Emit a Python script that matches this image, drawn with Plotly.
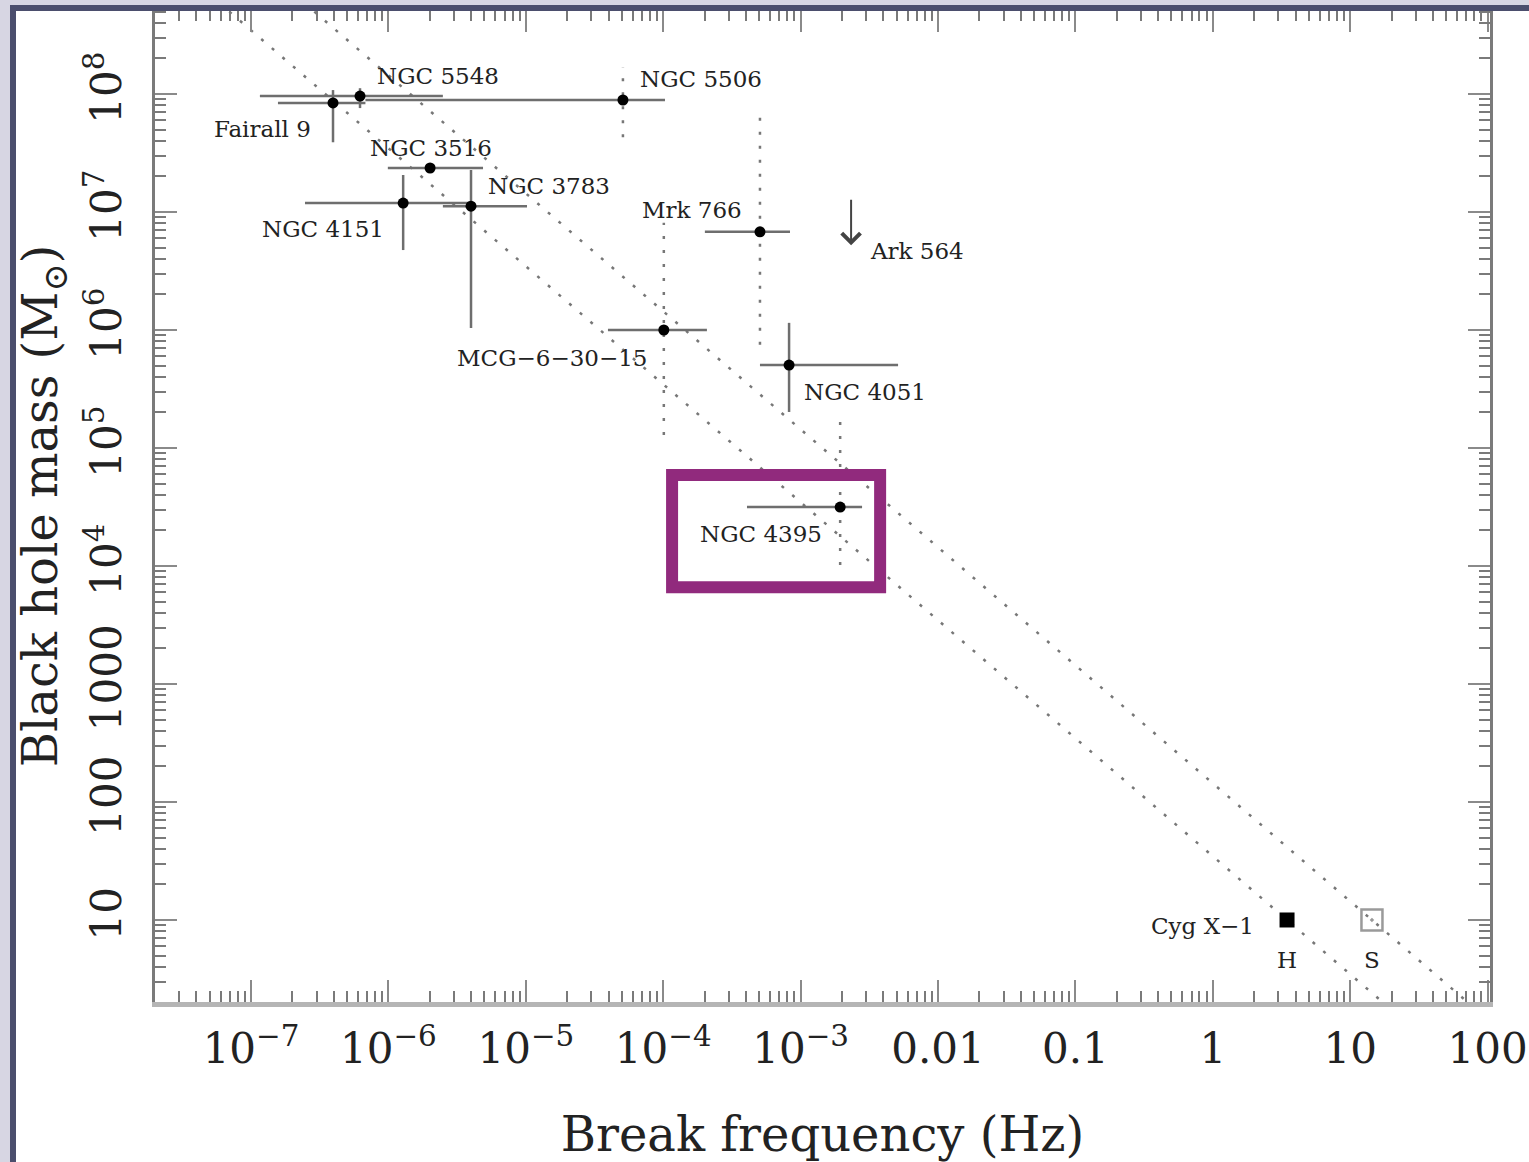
import math
import plotly.graph_objects as go

# AGN sample: PSD break frequency (Hz) against black-hole mass (solar masses)
names = ["Fairall 9", "NGC 5548", "NGC 5506", "NGC 3516", "NGC 4151",
         "NGC 3783", "Mrk 766", "MCG−6−30−15", "NGC 4051", "NGC 4395"]
freq = [3.95e-7, 6.21e-7, 5.09e-5, 2.01e-6, 1.28e-6,
        3.99e-6, 5.06e-4, 1.01e-4, 8.24e-4, 1.94e-3]
freq_lo = [1.57e-7, 1.16e-7, 6.8e-7, 9.9e-7, 2.47e-7,
           2.49e-6, 2.01e-4, 3.96e-5, 5.06e-4, 4.07e-4]
freq_hi = [6.8e-7, 2.49e-6, 1.03e-4, 4.88e-6, 3.93e-6,
           1.02e-5, 8.37e-4, 2.08e-4, 5.12e-3, 2.80e-3]
mass = [8.4e7, 9.6e7, 8.9e7, 2.36e7, 1.19e7,
        1.12e7, 6.8e6, 1.0e6, 5.05e5, 3.16e4]
mass_lo = [3.9e7, 7.6e7, 4.3e7, None, 4.76e6,
           1.04e6, 7.5e5, 1.29e5, 2.02e5, 1.02e4]
mass_hi = [1.08e8, 1.12e8, 1.69e8, None, 2.06e7,
           2.27e7, 6.9e7, 8.1e6, 1.15e6, 1.73e5]
# mass ranges drawn dotted (poorly constrained estimates)
mass_dotted = [False, False, True, False, False,
               False, True, True, False, True]

# Ark 564: upper limit on the mass
ark_name = "Ark 564"
ark_freq = 2.33e-3
ark_mass_limit = 1.31e7

# Cyg X-1 in its hard (H) and soft (S) states
cyg_name = "Cyg X−1"
cyg_state = ["H", "S"]
cyg_freq = [3.47, 14.4]
cyg_mass = [10.0, 10.0]

# highlighted region around NGC 4395
box_freq = [1.16e-4, 3.79e-3]
box_mass = [6.6e3, 5.9e4]

# axis ticks
x_tickvals = [1e-7, 1e-6, 1e-5, 1e-4, 1e-3, 0.01, 0.1, 1, 10, 100]
x_ticktext = ["10<sup>−7</sup>", "10<sup>−6</sup>", "10<sup>−5</sup>",
              "10<sup>−4</sup>", "10<sup>−3</sup>", "0.01", "0.1", "1",
              "10", "100"]
y_tickvals = [10, 100, 1000, 1e4, 1e5, 1e6, 1e7, 1e8]
y_ticktext = ["10", "100", "1000", "10<sup>4</sup>", "10<sup>5</sup>",
              "10<sup>6</sup>", "10<sup>7</sup>", "10<sup>8</sup>"]

# ---------------------------------------------------------------- layout
W, H = 1529, 1162
ML, MR, MT, MB = 155, 39, 10, 160
x_range = [-7.699, 2.0175]
y_range = [0.305, 8.712]
GRAY = "#777777"
SERIF = "DejaVu Serif"

# label placement relative to each point (pixels)
label_shift = {
    "Fairall 9": (-71, -26), "NGC 5548": (78, 20), "NGC 5506": (78, 21),
    "NGC 3516": (1, 20), "NGC 4151": (-80, -26), "NGC 3783": (78, 20),
    "Mrk 766": (-68, 22), "MCG−6−30−15": (-111, -28),
    "NGC 4051": (76, -27), "NGC 4395": (-79, -27),
}

fig = go.Figure()

# M ∝ 1/ν scaling lines through the two Cyg X-1 states
f_lo_edge, f_hi_edge = 10 ** x_range[0], 10 ** x_range[1]
for fc, mc in zip(cyg_freq, cyg_mass):
    fig.add_trace(go.Scatter(
        x=[f_lo_edge, f_hi_edge],
        y=[mc * fc / f_lo_edge, mc * fc / f_hi_edge],
        mode="lines", line=dict(color=GRAY, width=2.5, dash="3px,11px"),
        hoverinfo="skip", showlegend=False, cliponaxis=True))

# error bars
sx, sy, dx, dy = [], [], [], []
for f, m, fl, fh, ml, mh, dot in zip(freq, mass, freq_lo, freq_hi,
                                     mass_lo, mass_hi, mass_dotted):
    sx += [fl, fh, None]
    sy += [m, m, None]
    if ml is None:
        continue
    if dot:
        dx += [f, f, None]
        dy += [ml, mh, None]
    else:
        sx += [f, f, None]
        sy += [ml, mh, None]

fig.add_trace(go.Scatter(x=dx, y=dy, mode="lines",
                         line=dict(color=GRAY, width=2.5, dash="3px,11px"),
                         hoverinfo="skip", showlegend=False))
fig.add_trace(go.Scatter(x=sx, y=sy, mode="lines",
                         line=dict(color="#6e6e6e", width=2.5),
                         hoverinfo="skip", showlegend=False))
fig.add_trace(go.Scatter(x=freq, y=mass, mode="markers",
                         marker=dict(color="black", size=11),
                         text=names, showlegend=False))

# Cyg X-1
fig.add_trace(go.Scatter(x=[cyg_freq[0]], y=[cyg_mass[0]], mode="markers",
                         marker=dict(symbol="square", color="black", size=15),
                         showlegend=False))
fig.add_trace(go.Scatter(x=[cyg_freq[1]], y=[cyg_mass[1]], mode="markers",
                         marker=dict(symbol="square-open-dot", color="#9a9a9a",
                                     size=21, line=dict(width=2.5)),
                         showlegend=False))

label_font = dict(family=SERIF, size=23, color="#222222")
annotations = []
for n, f, m in zip(names, freq, mass):
    xs, ys = label_shift[n]
    annotations.append(dict(x=math.log10(f), y=math.log10(m), xref="x",
                            yref="y", text=n, showarrow=False,
                            xshift=xs, yshift=ys, font=label_font))

# Ark 564 limit arrow
annotations.append(dict(
    x=math.log10(ark_freq), y=math.log10(ark_mass_limit) - 0.4,
    ax=math.log10(ark_freq), ay=math.log10(ark_mass_limit),
    xref="x", yref="y", axref="x", ayref="y", text="",
    showarrow=True, arrowhead=4, arrowsize=1.8, arrowwidth=2,
    arrowcolor="#444444"))
annotations.append(dict(x=math.log10(ark_freq),
                        y=math.log10(ark_mass_limit) - 0.4,
                        xref="x", yref="y", text=ark_name, showarrow=False,
                        xshift=66, yshift=-6, font=label_font))

# Cyg X-1 labels
annotations.append(dict(x=math.log10(cyg_freq[0]), y=math.log10(cyg_mass[0]),
                        xref="x", yref="y", text=cyg_name, showarrow=False,
                        xshift=-85, yshift=-6, font=label_font))
for s, f, m in zip(cyg_state, cyg_freq, cyg_mass):
    annotations.append(dict(x=math.log10(f), y=math.log10(m), xref="x",
                            yref="y", text=s, showarrow=False,
                            xshift=0, yshift=-40, font=label_font))


# highlight box and page frame
def to_px_x(v):
    return (math.log10(v) - x_range[0]) / (x_range[1] - x_range[0])


def to_px_y(v):
    return (math.log10(v) - y_range[0]) / (y_range[1] - y_range[0])


PW, PH = W - ML - MR, H - MT - MB


def px(xp):
    return (xp - ML) / PW


def py(yp):
    return (H - MB - yp) / PH


shapes = [
    dict(type="rect", xref="paper", yref="paper",
         x0=to_px_x(box_freq[0]), x1=to_px_x(box_freq[1]),
         y0=to_px_y(box_mass[0]), y1=to_px_y(box_mass[1]),
         line=dict(color="#912a7d", width=12), layer="above"),
    # light outer strips
    dict(type="rect", xref="paper", yref="paper", x0=px(0), x1=px(10),
         y0=py(H), y1=py(0), line=dict(width=0), fillcolor="#d7d6e3",
         layer="above"),
    dict(type="rect", xref="paper", yref="paper", x0=px(0), x1=px(W),
         y0=py(5), y1=py(0), line=dict(width=0), fillcolor="#d7d6e3",
         layer="above"),
    # dark border
    dict(type="rect", xref="paper", yref="paper", x0=px(10), x1=px(16),
         y0=py(H), y1=py(5), line=dict(width=0), fillcolor="#4b4e6d",
         layer="above"),
    dict(type="rect", xref="paper", yref="paper", x0=px(10), x1=px(W),
         y0=py(11), y1=py(5), line=dict(width=0), fillcolor="#4b4e6d",
         layer="above"),
]


def minor_vals(lo, hi):
    out = []
    for d in range(lo, hi + 1):
        out += [k * 10.0 ** d for k in range(2, 10)]
    return out


tickfont = dict(family=SERIF, size=42, color="#222222")
fig.update_layout(
    width=W, height=H,
    margin=dict(l=ML, r=MR, t=MT, b=MB, pad=0, autoexpand=False),
    paper_bgcolor="white", plot_bgcolor="white",
    showlegend=False,
    annotations=annotations, shapes=shapes,
    xaxis=dict(type="log", range=x_range, tickmode="array",
               tickvals=x_tickvals, ticktext=x_ticktext, automargin=False,
               ticks="inside", ticklen=22, tickwidth=2, tickcolor="#8a8a8a",
               minor=dict(ticks="inside", ticklen=11, tickwidth=2,
                          tickcolor="#7a7a7a", tickmode="array",
                          tickvals=minor_vals(-8, 2), showgrid=False),
               showline=True, linecolor="#b5b5b5", linewidth=5,
               mirror="allticks", showgrid=False, zeroline=False,
               tickfont=tickfont, ticklabelstandoff=6,
               title=dict(text="Break frequency (Hz)", standoff=54,
                          font=dict(family=SERIF, size=48, color="#222222"))),
    yaxis=dict(type="log", range=y_range, tickmode="array",
               tickvals=y_tickvals, ticktext=y_ticktext, tickangle=-90,
               automargin=False,
               ticks="inside", ticklen=22, tickwidth=2, tickcolor="#8a8a8a",
               minor=dict(ticks="inside", ticklen=11, tickwidth=2,
                          tickcolor="#7a7a7a", tickmode="array",
                          tickvals=minor_vals(0, 8), showgrid=False),
               showline=True, linecolor="#7a7a7a", linewidth=3,
               mirror="allticks", showgrid=False, zeroline=False,
               tickfont=tickfont, ticklabelstandoff=14,
               title=dict(text="Black hole mass (M<sub>⊙</sub>)", standoff=4,
                          font=dict(family=SERIF, size=48, color="#222222"))),
)

fig.write_html("out.html")
